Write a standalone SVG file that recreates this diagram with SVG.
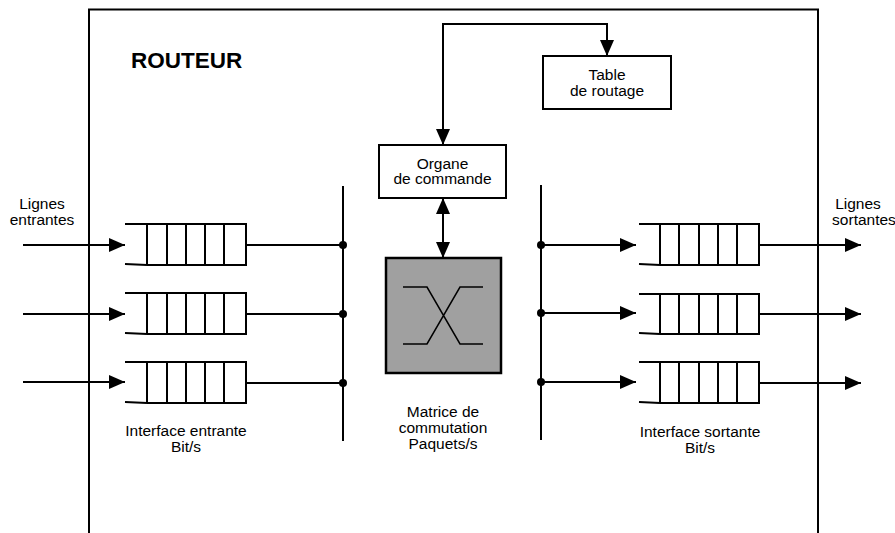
<svg xmlns="http://www.w3.org/2000/svg" width="895" height="533" viewBox="0 0 895 533">
<style>
.ln{stroke:#000;stroke-width:2;fill:none}
.q{stroke:#000;stroke-width:2;fill:#fff}
.box{stroke:#000;stroke-width:2;fill:#fff}
.t{font-family:"Liberation Sans",Arial,sans-serif;font-size:15.5px;fill:#000;text-anchor:middle}
.title{font-family:"Liberation Sans",Arial,sans-serif;font-size:22.5px;font-weight:bold;fill:#000}
.arr{stroke:#000;stroke-width:2;fill:none;marker-end:url(#ah)}
.dot{fill:#000}
</style>
<defs>
<marker id="ah" markerUnits="userSpaceOnUse" markerWidth="16" markerHeight="14" refX="16" refY="7" orient="auto-start-reverse" viewBox="0 0 16 14">
<path d="M0,0 L16,7 L0,14 z" fill="#000"/>
</marker>
</defs>
<rect width="895" height="533" fill="#fff"/>

<g id="routeur">
<path class="ln" d="M89,533 V9.5 H818 V533"/>
<text class="title" x="131" y="68">ROUTEUR</text>
</g>

<g id="labels">
<text class="t" x="42" y="209">Lignes</text>
<text class="t" x="42" y="224.5">entrantes</text>
<text class="t" x="858" y="209">Lignes</text>
<text class="t" x="864" y="224.5">sortantes</text>
<text class="t" x="186" y="435.5">Interface entrante</text>
<text class="t" x="186" y="452">Bit/s</text>
<text class="t" x="700" y="436.5">Interface sortante</text>
<text class="t" x="700" y="453">Bit/s</text>
<text class="t" x="443" y="417">Matrice de</text>
<text class="t" x="443" y="433">commutation</text>
<text class="t" x="443" y="449">Paquets/s</text>
</g>

<g id="connectors">
<line class="arr" x1="23" y1="245" x2="125" y2="245"/>
<line class="arr" x1="23" y1="314" x2="125" y2="314"/>
<line class="arr" x1="23" y1="382" x2="125" y2="382"/>
<line class="ln" x1="246" y1="245" x2="343" y2="245"/>
<line class="ln" x1="246" y1="314" x2="343" y2="314"/>
<line class="ln" x1="246" y1="383" x2="343" y2="383"/>
<line class="ln" x1="343" y1="186" x2="343" y2="441"/>
<circle class="dot" cx="343" cy="245" r="4"/>
<circle class="dot" cx="343" cy="314" r="4"/>
<circle class="dot" cx="343" cy="383" r="4"/>
<line class="ln" x1="541" y1="185" x2="541" y2="440"/>
<circle class="dot" cx="541" cy="245" r="4"/>
<circle class="dot" cx="541" cy="313" r="4"/>
<circle class="dot" cx="541" cy="382" r="4"/>
<line class="arr" x1="541" y1="245" x2="636" y2="245"/>
<line class="arr" x1="541" y1="313" x2="636" y2="313"/>
<line class="arr" x1="541" y1="382" x2="636" y2="382"/>
<line class="arr" x1="759" y1="245" x2="861" y2="245"/>
<line class="arr" x1="759" y1="314" x2="861" y2="314"/>
<line class="arr" x1="759" y1="383" x2="861" y2="383"/>
<path class="arr" style="marker-start:url(#ah)" d="M443,145 V24 H607 V56"/>
<line class="arr" style="marker-start:url(#ah)" x1="443" y1="198" x2="443" y2="258"/>
</g>

<g id="queue-in-1">
<path class="q" d="M125,224 H246 V265 H147"/>
<path class="ln" d="M125,264 L147,265 M147,224 V265 M167,224 V265 M186,224 V265 M205,224 V265 M224,224 V265"/>
</g>
<g id="queue-in-2">
<path class="q" d="M125,293 H246 V334 H147"/>
<path class="ln" d="M125,333 L147,334 M147,293 V334 M167,293 V334 M186,293 V334 M205,293 V334 M224,293 V334"/>
</g>
<g id="queue-in-3">
<path class="q" d="M125,362 H246 V403 H147"/>
<path class="ln" d="M125,402 L147,403 M147,362 V403 M167,362 V403 M186,362 V403 M205,362 V403 M224,362 V403"/>
</g>

<g id="queue-out-1">
<path class="q" d="M639,224 H759 V265 H660"/>
<path class="ln" d="M639,264 L660,265 M660,224 V265 M679,224 V265 M699,224 V265 M718,224 V265 M737,224 V265"/>
</g>
<g id="queue-out-2">
<path class="q" d="M639,294 H759 V334 H660"/>
<path class="ln" d="M639,333 L660,334 M660,294 V334 M679,294 V334 M699,294 V334 M718,294 V334 M737,294 V334"/>
</g>
<g id="queue-out-3">
<path class="q" d="M639,362 H759 V403 H660"/>
<path class="ln" d="M639,402 L660,403 M660,362 V403 M679,362 V403 M699,362 V403 M718,362 V403 M737,362 V403"/>
</g>

<g id="organe">
<rect class="box" x="379" y="145" width="127" height="53"/>
<text class="t" x="442.5" y="168.5">Organe</text>
<text class="t" x="442.5" y="184">de commande</text>
</g>

<g id="table">
<rect class="box" x="543" y="56" width="128" height="53"/>
<text class="t" x="607" y="79.5">Table</text>
<text class="t" x="607" y="96">de routage</text>
</g>

<g id="matrice">
<rect x="386" y="258" width="115" height="115" fill="#a0a0a0" stroke="#000" stroke-width="2.5"/>
<path d="M403,287 H427 L460,344 H483 M403,344 H427 L460,287 H483" fill="none" stroke="#000" stroke-width="1.5"/>
</g>
</svg>
